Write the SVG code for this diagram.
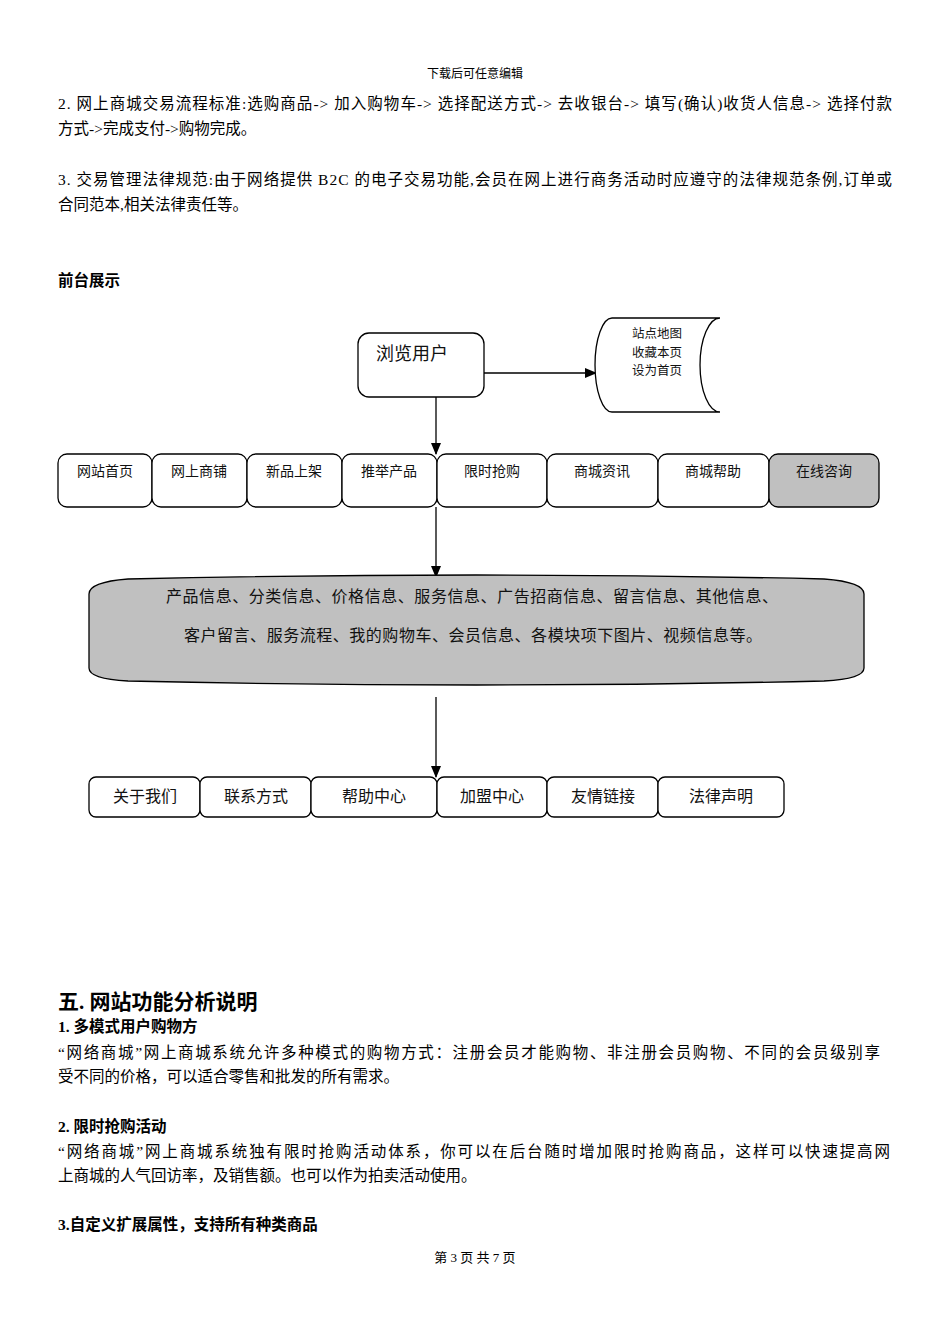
<svg xmlns="http://www.w3.org/2000/svg" width="950" height="1344" viewBox="0 0 950 1344">
<defs>
<marker id="arr" markerWidth="12" markerHeight="10" refX="11" refY="5" orient="auto" markerUnits="userSpaceOnUse">
<path d="M0,0 L12,5 L0,10 Z" fill="#000"/>
</marker>
<style>
.t{font-family:"Liberation Serif","Noto Sans CJK SC",serif;fill:#000}
.p{font-size:15.5px}
.b{font-weight:bold}
.box{fill:#fff;stroke:#000;stroke-width:1.3}
.gray{fill:#c0c0c0}
.lbl{font-family:"Noto Sans CJK SC",sans-serif;fill:#111;text-anchor:middle;font-weight:normal}
.ln{stroke:#000;stroke-width:1.3;fill:none}
</style>
</defs>
<rect width="950" height="1344" fill="#fff"/>

<text class="t" x="475" y="78" font-size="12" text-anchor="middle">下载后可任意编辑</text>
<text class="t p" x="58" y="109" textLength="834" lengthAdjust="spacing">2. 网上商城交易流程标准:选购商品-&gt; 加入购物车-&gt; 选择配送方式-&gt; 去收银台-&gt; 填写(确认)收货人信息-&gt; 选择付款</text>
<text class="t p" x="58" y="134">方式-&gt;完成支付-&gt;购物完成。</text>
<text class="t p" x="58" y="185" textLength="834" lengthAdjust="spacing">3. 交易管理法律规范:由于网络提供 B2C 的电子交易功能,会员在网上进行商务活动时应遵守的法律规范条例,订单或</text>
<text class="t p" x="58" y="210">合同范本,相关法律责任等。</text>
<text class="t p b" x="58" y="286">前台展示</text>

<g id="connectors">
<line class="ln" x1="484" y1="373" x2="596" y2="373" marker-end="url(#arr)"/>
<line class="ln" x1="436" y1="397" x2="436" y2="454" marker-end="url(#arr)"/>
<line class="ln" x1="436" y1="507" x2="436" y2="577" marker-end="url(#arr)"/>
<line class="ln" x1="436" y1="697" x2="436" y2="777" marker-end="url(#arr)"/>
</g>

<g id="browse">
<rect class="box" x="358" y="333" width="126" height="64" rx="11"/>
<text class="lbl" x="412" y="360" font-size="18">浏览用户</text>
</g>

<g id="stored">
<path class="box" d="M612,318 L720,318 A20,47 0 0 0 720,412 L612,412 A17,47 0 0 1 612,318 Z"/>
<text class="lbl" x="657" y="338" font-size="12.5">站点地图</text>
<text class="lbl" x="657" y="356.5" font-size="12.5">收藏本页</text>
<text class="lbl" x="657" y="375" font-size="12.5">设为首页</text>
</g>

<g id="n1"><rect class="box" x="58" y="454" width="94" height="53" rx="9"/><text class="lbl" x="105" y="476" font-size="14">网站首页</text></g>
<g id="n2"><rect class="box" x="152" y="454" width="95" height="53" rx="9"/><text class="lbl" x="199" y="476" font-size="14">网上商铺</text></g>
<g id="n3"><rect class="box" x="247" y="454" width="95" height="53" rx="9"/><text class="lbl" x="294" y="476" font-size="14">新品上架</text></g>
<g id="n4"><rect class="box" x="342" y="454" width="95" height="53" rx="9"/><text class="lbl" x="389" y="476" font-size="14">推举产品</text></g>
<g id="n5"><rect class="box" x="437" y="454" width="110" height="53" rx="9"/><text class="lbl" x="492" y="476" font-size="14">限时抢购</text></g>
<g id="n6"><rect class="box" x="547" y="454" width="111" height="53" rx="9"/><text class="lbl" x="602" y="476" font-size="14">商城资讯</text></g>
<g id="n7"><rect class="box" x="658" y="454" width="111" height="53" rx="9"/><text class="lbl" x="713" y="476" font-size="14">商城帮助</text></g>
<g id="n8"><rect class="box gray" x="769" y="454" width="110" height="53" rx="9"/><text class="lbl" x="824" y="476" font-size="14">在线咨询</text></g>

<g id="info">
<path class="box gray" d="M89,594 Q89,582 128,579 Q476,571 824,579 Q864,582 864,594 L864,668 Q864,679 824,681 Q476,689 128,681 Q89,679 89,668 Z"/>
<text class="lbl" x="472" y="602" font-size="16" textLength="612" lengthAdjust="spacing">产品信息、分类信息、价格信息、服务信息、广告招商信息、留言信息、其他信息、</text>
<text class="lbl" x="473" y="641" font-size="16" textLength="578" lengthAdjust="spacing">客户留言、服务流程、我的购物车、会员信息、各模块项下图片、视频信息等。</text>
</g>

<g id="m1"><rect class="box" x="89" y="777" width="111" height="40" rx="7"/><text class="lbl" x="145" y="802" font-size="16">关于我们</text></g>
<g id="m2"><rect class="box" x="200" y="777" width="111" height="40" rx="7"/><text class="lbl" x="256" y="802" font-size="16">联系方式</text></g>
<g id="m3"><rect class="box" x="311" y="777" width="126" height="40" rx="7"/><text class="lbl" x="374" y="802" font-size="16">帮助中心</text></g>
<g id="m4"><rect class="box" x="437" y="777" width="110" height="40" rx="7"/><text class="lbl" x="492" y="802" font-size="16">加盟中心</text></g>
<g id="m5"><rect class="box" x="547" y="777" width="111" height="40" rx="7"/><text class="lbl" x="603" y="802" font-size="16">友情链接</text></g>
<g id="m6"><rect class="box" x="658" y="777" width="126" height="40" rx="7"/><text class="lbl" x="721" y="802" font-size="16">法律声明</text></g>

<text class="t b" x="58" y="1009" font-size="21">五. 网站功能分析说明</text>
<text class="t p b" x="58" y="1032">1. 多模式用户购物方</text>
<text class="t p" x="58" y="1058" textLength="822" lengthAdjust="spacing">“网络商城”网上商城系统允许多种模式的购物方式：注册会员才能购物、非注册会员购物、不同的会员级别享</text>
<text class="t p" x="58" y="1082">受不同的价格，可以适合零售和批发的所有需求。</text>
<text class="t p b" x="58" y="1132">2. 限时抢购活动</text>
<text class="t p" x="58" y="1157" textLength="832" lengthAdjust="spacing">“网络商城”网上商城系统独有限时抢购活动体系，你可以在后台随时增加限时抢购商品，这样可以快速提高网</text>
<text class="t p" x="58" y="1181">上商城的人气回访率，及销售额。也可以作为拍卖活动使用。</text>
<text class="t p b" x="58" y="1230">3.自定义扩展属性，支持所有种类商品</text>
<text class="t" x="475" y="1262" font-size="13" text-anchor="middle">第 3 页 共 7 页</text>
</svg>
